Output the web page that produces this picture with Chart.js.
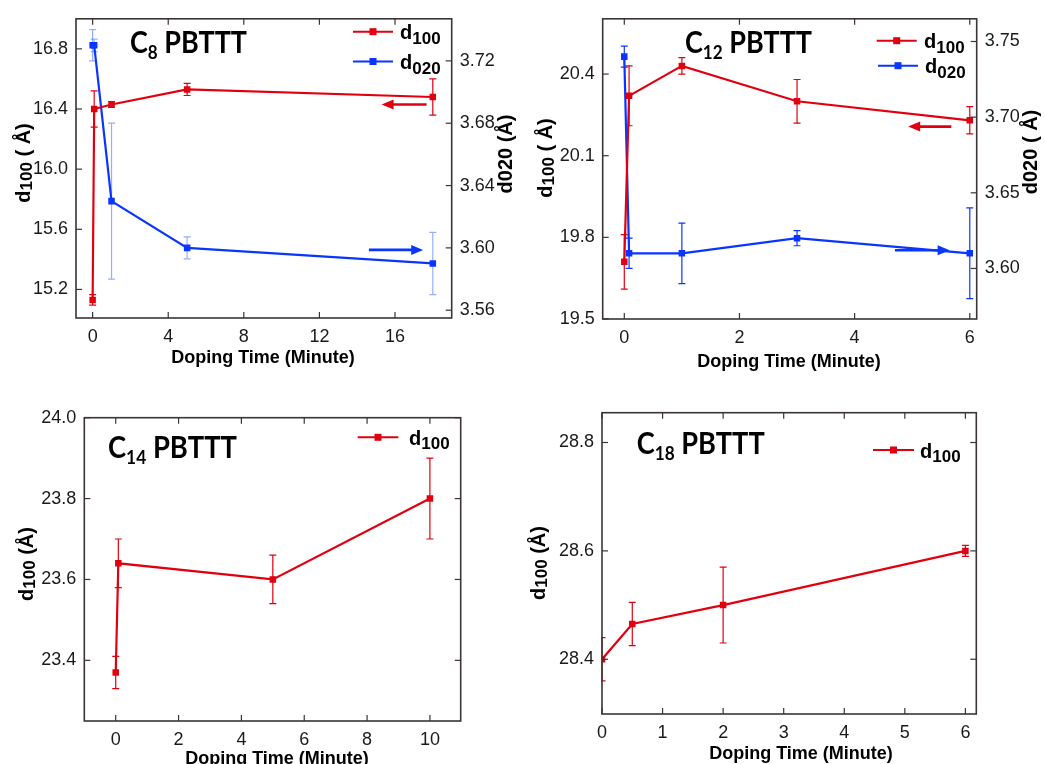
<!DOCTYPE html>
<html><head><meta charset="utf-8">
<script src="https://cdn.jsdelivr.net/npm/chart.js@4/dist/chart.umd.min.js"></script>
<style>
html,body{margin:0;padding:0;background:#fff;}
#wrap{position:relative;width:1045px;height:764px;overflow:hidden;background:#fff;}
canvas{position:absolute;}
</style></head><body><div id="wrap">
<canvas id="p8"></canvas><canvas id="p12"></canvas><canvas id="p14"></canvas><canvas id="p18"></canvas>
</div>
<script>
// ---------------- data ----------------
const c8Time = [0, 0.083, 1, 5, 18];
const c8D100 = [15.13, 16.40, 16.43, 16.53, 16.48];
const c8D100Err = [0.035, 0.12, 0.02, 0.04, 0.12];
const c8D020 = [3.73, 3.73, 3.63, 3.60, 3.59];
const c8D020Err = [0.010, 0.004, 0.05, 0.007, 0.02];

const c12Time = [0, 0.083, 1, 3, 6];
const c12D100 = [19.71, 20.32, 20.43, 20.30, 20.23];
const c12D100Err = [0.10, 0.11, 0.03, 0.08, 0.05];
const c12D020 = [3.74, 3.61, 3.61, 3.62, 3.61];
const c12D020Err = [0.007, 0.01, 0.02, 0.005, 0.03];

const c14Time = [0, 0.083, 5, 10];
const c14D100 = [23.37, 23.64, 23.60, 23.80];
const c14D100Err = [0.04, 0.06, 0.06, 0.10];

const c18Time = [0, 0.5, 2, 6];
const c18D100 = [28.40, 28.465, 28.50, 28.60];
const c18D100Err = [0.04, 0.04, 0.07, 0.01];

const c8XTicks = [0, 4, 8, 12, 16];
const c8Y1Ticks = [15.2, 15.6, 16.0, 16.4, 16.8];
const c8Y2Ticks = [3.56, 3.60, 3.64, 3.68, 3.72];
const c12XTicks = [0, 2, 4, 6];
const c12Y1Ticks = [19.5, 19.8, 20.1, 20.4];
const c12Y2Ticks = [3.60, 3.65, 3.70, 3.75];
const c14XTicks = [0, 2, 4, 6, 8, 10];
const c14YTicks = [23.4, 23.6, 23.8, 24.0];
const c18XTicks = [0, 1, 2, 3, 4, 5, 6];
const c18YTicks = [28.4, 28.6, 28.8];

const xTitle = 'Doping Time (Minute)';
// --------------------------------------

const RED = '#e1000f';
const BLUE = '#0a35ff';
const BLUE_ERR = 'rgba(60,110,255,0.55)';
const FRAME = '#3b3535';
const TXT = '#1a1a1a';
const SANS = '"Liberation Sans", Arial, sans-serif';
const TFONT = 'Lato, "Open Sans", sans-serif';

function richWidth(ctx, parts) {
  let w = 0;
  parts.forEach(p => { ctx.font = p.font; w += ctx.measureText(p.t).width; });
  return w;
}
function drawRich(ctx, parts, x, y, align) {
  const w = richWidth(ctx, parts);
  let cx = align === 'center' ? x - w / 2 : x;
  parts.forEach(p => {
    ctx.font = p.font;
    ctx.fillText(p.t, cx, y + (p.dy || 0));
    cx += ctx.measureText(p.t).width;
  });
}

const deco = {
  id: 'deco',
  beforeDatasetsDraw(chart) {
    const ctx = chart.ctx, a = chart.chartArea;
    ctx.save();
    ctx.beginPath(); ctx.rect(a.left - 1, a.top, a.right - a.left + 2, a.bottom - a.top); ctx.clip();
    chart.data.datasets.forEach(ds => {
      const ys = chart.scales[ds.yAxisID], xs = chart.scales.x;
      ctx.strokeStyle = ds.errColor; ctx.lineWidth = 1.2;
      ds.data.forEach((pt, i) => {
        const e = ds.errors[i];
        const x = xs.getPixelForValue(pt.x);
        const y1 = ys.getPixelForValue(pt.y + e), y2 = ys.getPixelForValue(pt.y - e);
        ctx.beginPath();
        ctx.moveTo(x, y1); ctx.lineTo(x, y2);
        ctx.moveTo(x - 3.5, y1); ctx.lineTo(x + 3.5, y1);
        ctx.moveTo(x - 3.5, y2); ctx.lineTo(x + 3.5, y2);
        ctx.stroke();
      });
    });
    ctx.restore();
  },
  afterDraw(chart) {
    const p = chart.options.plugins.deco;
    const ctx = chart.ctx, a = chart.chartArea;
    ctx.save();
    // frame
    ctx.strokeStyle = FRAME; ctx.lineWidth = 1.6;
    ctx.strokeRect(a.left, a.top, a.right - a.left, a.bottom - a.top);
    // inward ticks
    ctx.lineWidth = 1.2;
    const TL = 6;
    const xs = chart.scales.x;
    xs.ticks.forEach(t => {
      const x = xs.getPixelForValue(t.value);
      ctx.beginPath();
      ctx.moveTo(x, a.bottom); ctx.lineTo(x, a.bottom - TL);
      ctx.moveTo(x, a.top); ctx.lineTo(x, a.top + TL);
      ctx.stroke();
    });
    const yl = chart.scales.y;
    const yr = chart.scales.y2 || chart.scales.y;
    yl.ticks.forEach(t => {
      const y = yl.getPixelForValue(t.value);
      ctx.beginPath(); ctx.moveTo(a.left, y); ctx.lineTo(a.left + TL, y); ctx.stroke();
    });
    yr.ticks.forEach(t => {
      const y = yr.getPixelForValue(t.value);
      ctx.beginPath(); ctx.moveTo(a.right, y); ctx.lineTo(a.right - TL, y); ctx.stroke();
    });
    // arrows
    (p.arrows || []).forEach(ar => {
      const ys = chart.scales[ar.axis];
      const x1 = xs.getPixelForValue(ar.from), x2 = xs.getPixelForValue(ar.to);
      const y = ys.getPixelForValue(ar.y);
      const dir = Math.sign(x2 - x1);
      ctx.strokeStyle = ar.color; ctx.fillStyle = ar.color; ctx.lineWidth = 2.6;
      ctx.beginPath(); ctx.moveTo(x1, y); ctx.lineTo(x2 - dir * 9, y); ctx.stroke();
      ctx.beginPath(); ctx.moveTo(x2, y); ctx.lineTo(x2 - dir * 12, y - 5); ctx.lineTo(x2 - dir * 12, y + 5); ctx.closePath(); ctx.fill();
    });
    ctx.fillStyle = '#000';
    ctx.textBaseline = 'alphabetic';
    // panel title (squeezed to width)
    const tt = p.title;
    const tparts = [
      { t: 'C', font: `bold 30px ${TFONT}` },
      { t: tt.sub, font: `bold 19px ${TFONT}`, dy: 6 },
      { t: ' PBTTT', font: `bold 30px ${TFONT}` }
    ];
    const tw = richWidth(ctx, tparts);
    ctx.save();
    ctx.translate(tt.x, tt.y);
    ctx.scale(tt.w / tw, 1);
    drawRich(ctx, tparts, 0, 0, 'left');
    ctx.restore();
    // legend
    p.legend.forEach(lg => {
      ctx.strokeStyle = lg.color; ctx.fillStyle = lg.color; ctx.lineWidth = 2;
      ctx.beginPath(); ctx.moveTo(lg.x1, lg.y); ctx.lineTo(lg.x2, lg.y); ctx.stroke();
      const mx = (lg.x1 + lg.x2) / 2;
      ctx.fillRect(mx - 3.5, lg.y - 3.5, 7, 7);
      ctx.fillStyle = '#000';
      drawRich(ctx, [
        { t: 'd', font: `bold 20px ${SANS}` },
        { t: lg.sub, font: `bold 17px ${SANS}`, dy: 4.5 }
      ], lg.tx, lg.y + 7.5, 'left');
    });
    // axis titles
    ctx.fillStyle = '#000';
    drawRich(ctx, [{ t: xTitle, font: `bold 18px ${SANS}` }], p.xt.x, p.xt.y + 6.5, 'center');
    const drawV = (def, parts) => {
      ctx.save(); ctx.translate(def.x, def.y); ctx.rotate(-Math.PI / 2);
      drawRich(ctx, parts, 0, 7, 'center'); ctx.restore();
    };
    drawV(p.yt, [
      { t: 'd', font: `bold 20px ${SANS}` },
      { t: '100', font: `bold 17px ${SANS}`, dy: 2 },
      { t: p.yt.rest, font: `bold 20px ${SANS}` }
    ]);
    if (p.y2t) drawV(p.y2t, [{ t: p.y2t.text, font: `bold 20px ${SANS}` }]);
    ctx.restore();
  }
};

function tickAxis(list, dec, min, max, pos, fitFn, pad) {
  return {
    type: 'linear', position: pos, min: min, max: max,
    afterBuildTicks: s => { s.ticks = list.map(v => ({ value: v })); },
    afterFit: fitFn,
    grid: { display: false, drawTicks: false },
    border: { display: false },
    ticks: {
      autoSkip: false, maxRotation: 0, padding: pad, color: TXT,
      font: { family: SANS, size: 18 },
      callback: v => dec === 0 ? String(Math.round(v)) : Number(v).toFixed(dec)
    }
  };
}

function makePanel(cfg) {
  const cv = document.getElementById(cfg.id);
  cv.width = cfg.w; cv.height = cfg.h;
  cv.style.width = cfg.w + 'px'; cv.style.height = cfg.h + 'px';
  cv.style.left = cfg.left + 'px'; cv.style.top = cfg.top + 'px';
  const A = cfg.area;
  const datasets = cfg.series.map(s => ({
    label: s.label,
    data: s.x.map((x, i) => ({ x: x, y: s.y[i] })),
    yAxisID: s.axis,
    borderColor: s.color, backgroundColor: s.color,
    borderWidth: 2.2, pointStyle: 'rect', pointRadius: 4.6, pointBorderWidth: 0,
    pointHoverRadius: 4.6, tension: 0, errors: s.err, errColor: s.errColor
  }));
  const scales = {
    x: tickAxis(cfg.xTicks, 0, cfg.xr[0], cfg.xr[1], 'bottom', s => { s.height = cfg.h - A.b; }, 8),
    y: tickAxis(cfg.yTicks, cfg.yDec, cfg.yr[0], cfg.yr[1], 'left', s => { s.width = A.l; }, 8)
  };
  if (cfg.y2Ticks) {
    scales.y2 = tickAxis(cfg.y2Ticks, cfg.y2Dec, cfg.y2r[0], cfg.y2r[1], 'right', s => { s.width = cfg.w - A.r; }, 8);
  }
  new Chart(cv, {
    type: 'line',
    data: { datasets: datasets },
    options: {
      responsive: false, animation: false, devicePixelRatio: 1,
      layout: { padding: { top: A.t, left: 0, bottom: 0, right: cfg.y2Ticks ? 0 : cfg.w - A.r } },
      scales: scales,
      plugins: { legend: { display: false }, tooltip: { enabled: false }, deco: cfg.deco }
    },
    plugins: [deco]
  });
}

makePanel({
  id: 'p8', left: 0, top: 0, w: 522, h: 382,
  area: { l: 76, t: 15, r: 451.7, b: 318 },
  xr: [-0.88, 19.0], yr: [15.01, 17.0], y2r: [3.555, 3.747],
  xTicks: c8XTicks, yTicks: c8Y1Ticks, y2Ticks: c8Y2Ticks, yDec: 1, y2Dec: 2,
  series: [
    { label: 'd100', x: c8Time, y: c8D100, err: c8D100Err, axis: 'y', color: RED, errColor: RED },
    { label: 'd020', x: c8Time, y: c8D020, err: c8D020Err, axis: 'y2', color: BLUE, errColor: BLUE_ERR }
  ],
  deco: {
    title: { sub: '8', x: 130, y: 53, w: 117 },
    legend: [
      { sub: '100', color: RED, x1: 353, x2: 393, y: 31.7, tx: 400 },
      { sub: '020', color: BLUE, x1: 353, x2: 393, y: 61.5, tx: 400 }
    ],
    arrows: [
      { axis: 'y', y: 16.43, from: 17.67, to: 15.29, color: RED },
      { axis: 'y2', y: 3.5987, from: 14.62, to: 17.49, color: BLUE }
    ],
    xt: { x: 263, y: 356 },
    yt: { x: 23, y: 163, rest: ' ( Å)' },
    y2t: { x: 505, y: 154, text: 'd020 (Å)' }
  }
});

makePanel({
  id: 'p12', left: 522, top: 0, w: 523, h: 382,
  area: { l: 80.7, t: 15, r: 454.7, b: 319 },
  xr: [-0.375, 6.12], yr: [19.5, 20.603], y2r: [3.5666, 3.765],
  xTicks: c12XTicks, yTicks: c12Y1Ticks, y2Ticks: c12Y2Ticks, yDec: 1, y2Dec: 2,
  series: [
    { label: 'd100', x: c12Time, y: c12D100, err: c12D100Err, axis: 'y', color: RED, errColor: RED },
    { label: 'd020', x: c12Time, y: c12D020, err: c12D020Err, axis: 'y2', color: BLUE, errColor: BLUE }
  ],
  deco: {
    title: { sub: '12', x: 163, y: 53, w: 127 },
    legend: [
      { sub: '100', color: RED, x1: 354.7, x2: 394.7, y: 40.7, tx: 402 },
      { sub: '020', color: BLUE, x1: 356, x2: 396, y: 65.7, tx: 403 }
    ],
    arrows: [
      { axis: 'y', y: 20.207, from: 5.68, to: 4.93, color: RED },
      { axis: 'y2', y: 3.612, from: 4.70, to: 5.65, color: BLUE }
    ],
    xt: { x: 267, y: 360 },
    yt: { x: 23, y: 158, rest: ' ( Å)' },
    y2t: { x: 508, y: 152, text: 'd020 ( Å)' }
  }
});

makePanel({
  id: 'p14', left: 0, top: 382, w: 522, h: 382,
  area: { l: 84.3, t: 35.7, r: 460.7, b: 339 },
  xr: [-1.0, 10.98], yr: [23.25, 24.0],
  xTicks: c14XTicks, yTicks: c14YTicks, yDec: 1,
  series: [
    { label: 'd100', x: c14Time, y: c14D100, err: c14D100Err, axis: 'y', color: RED, errColor: RED }
  ],
  deco: {
    title: { sub: '14', x: 108, y: 76, w: 129 },
    legend: [ { sub: '100', color: RED, x1: 357.7, x2: 398.3, y: 55.3, tx: 409 } ],
    arrows: [],
    xt: { x: 277, y: 375 },
    yt: { x: 26, y: 182, rest: ' (Å)' }
  }
});

makePanel({
  id: 'p18', left: 522, top: 382, w: 523, h: 382,
  area: { l: 80, t: 30.7, r: 454.3, b: 332 },
  xr: [0, 6.18], yr: [28.299, 28.855],
  xTicks: c18XTicks, yTicks: c18YTicks, yDec: 1,
  series: [
    { label: 'd100', x: c18Time, y: c18D100, err: c18D100Err, axis: 'y', color: RED, errColor: RED }
  ],
  deco: {
    title: { sub: '18', x: 114.7, y: 72, w: 128 },
    legend: [ { sub: '100', color: RED, x1: 351, x2: 392, y: 68, tx: 398 } ],
    arrows: [],
    xt: { x: 279, y: 370.7 },
    yt: { x: 16, y: 181, rest: ' (Å)' }
  }
});
</script>
</body></html>
